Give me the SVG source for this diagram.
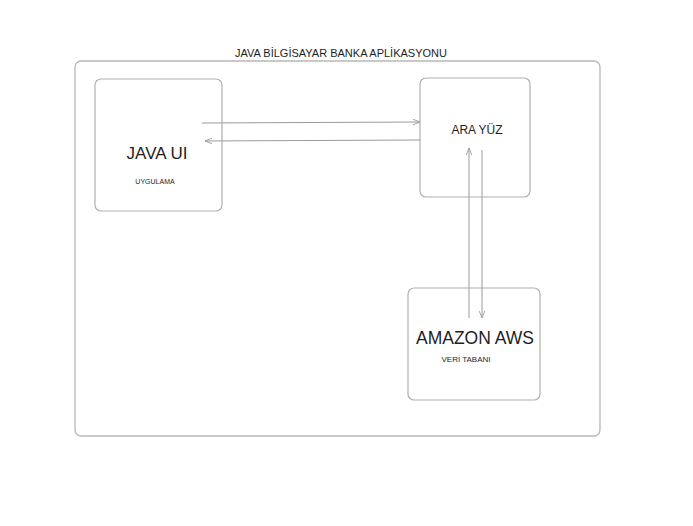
<svg xmlns="http://www.w3.org/2000/svg" width="693" height="526" viewBox="0 0 693 526">
<style>
.box{fill:#fff;stroke:#b0b0b0;stroke-width:1.2}
.frame{fill:none;stroke:#b8b8b8;stroke-width:1.3}
.con{fill:none;stroke:#9a9a9a;stroke-width:1}
text{font-family:"Liberation Sans",Arial,sans-serif;fill:#1e1e1e;text-anchor:middle}
</style>
<defs>
<marker id="ah" viewBox="0 0 10 10" refX="10" refY="5" markerWidth="7" markerHeight="7" orient="auto" markerUnits="userSpaceOnUse">
<path d="M0,1 L10,5 L0,9" fill="none" stroke="#9a9a9a" stroke-width="1.3"/>
</marker>
</defs>
<rect width="693" height="526" fill="#fff"/>
<g id="frame">
<rect class="frame" x="75" y="61" width="525" height="375" rx="6"/>
<text x="341" y="57" font-size="11">JAVA BİLGİSAYAR BANKA APLİKASYONU</text>
</g>
<g id="java-ui">
<rect class="box" x="95" y="79" width="127" height="132" rx="6"/>
<text x="157" y="159" font-size="17">JAVA UI</text>
<text x="155" y="184" font-size="7">UYGULAMA</text>
</g>
<g id="ara-yuz">
<rect class="box" x="420" y="78" width="110" height="119" rx="6"/>
<text x="477" y="134" font-size="12">ARA YÜZ</text>
</g>
<g id="amazon-aws">
<rect class="box" x="408" y="288" width="132" height="112" rx="6"/>
<text x="475" y="344" font-size="17.5">AMAZON AWS</text>
<text x="466" y="362" font-size="8">VERİ TABANI</text>
</g>
<g id="connectors">
<line class="con" x1="202" y1="123" x2="420" y2="122" marker-end="url(#ah)"/>
<line class="con" x1="420" y1="140" x2="205" y2="141" marker-end="url(#ah)"/>
<line class="con" x1="469" y1="318" x2="469" y2="148" marker-end="url(#ah)"/>
<line class="con" x1="482" y1="150" x2="482" y2="318" marker-end="url(#ah)"/>
</g>
</svg>
